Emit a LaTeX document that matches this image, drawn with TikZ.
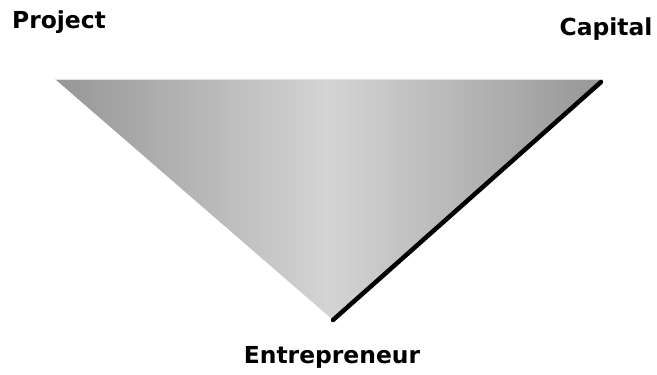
\documentclass[tikz,border=0pt]{standalone}
\usepackage{fontspec}
\setmainfont{DejaVu Sans}
\usetikzlibrary{positioning, calc}
\definecolor{edgegray}{RGB}{150,150,150}
\definecolor{midgray}{RGB}{212,212,212}
\definecolor{topgray}{RGB}{225,225,225}
\tikzset{
    cornerlabel/.style={font=\fontsize{23.5}{27}\selectfont\bfseries, text=black, inner sep=0pt},
    boldedge/.style={black, line width=4.5bp, line cap=round}
}

\begin{document}
\begin{tikzpicture}[x=1bp, y=-1bp]
\useasboundingbox (0,0) rectangle (657,374);

\coordinate (pcorner) at (55,79);
\coordinate (ccorner) at (603,79);
\coordinate (ecorner) at (333,320);

\shade[left color=edgegray, right color=edgegray, middle color=midgray] (pcorner) -- (ccorner) -- (ecorner) -- cycle;
\draw[topgray, line width=1bp] (pcorner) -- (ccorner);
\draw[boldedge] (ecorner) -- ($(ccorner)+(-2,3)$);

\node[cornerlabel] (project) at (59,22) {Project};
\node[cornerlabel] (capital) at (606,29) {Capital};
\node[cornerlabel] (entre) at (332,357) {Entrepreneur};

\end{tikzpicture}
\end{document}
